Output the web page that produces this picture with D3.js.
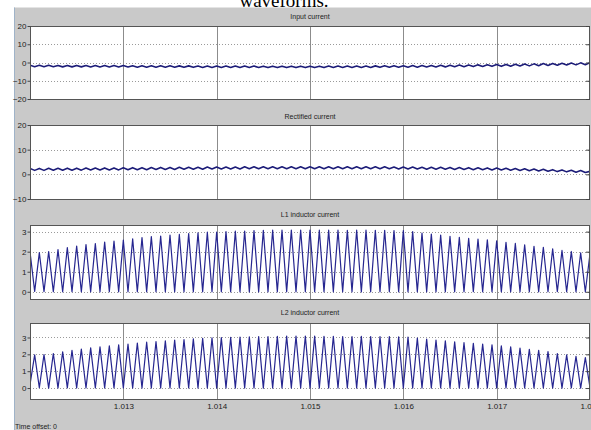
<!DOCTYPE html>
<html><head><meta charset="utf-8">
<script src="https://cdn.jsdelivr.net/npm/d3@7/dist/d3.min.js"></script>
<style>html,body{margin:0;padding:0;background:#fff;}svg{display:block;}</style>
</head><body>
<script>
// ---------- data ----------
const xDomain = [1.012, 1.018];
const xTickValues = [1.013, 1.014, 1.015, 1.016, 1.017, 1.018];
const xTickLabels = ["1.013", "1.014", "1.015", "1.016", "1.017", "1.018"];
const panelTitles = ["Input current", "Rectified current", "L1 inductor current", "L2 inductor current"];
const yDomains = [[-20, 20], [-10, 20], [-0.36, 3.33], [-0.65, 3.86]];
const yTicks = [[-20, -10, 0, 10, 20], [-10, 0, 10, 20], [0, 1, 2, 3], [0, 1, 2, 3]];
const sampleStart = 1.012, sampleStep = 0.00005; // time grid of the scope samples (half switching periods)

const inputCurrent = [
 -1.5,-2.3,-1.55,-2.35,-1.55,-2.35,-1.6,-2.4,-1.6,-2.4,
 -1.6,-2.4,-1.65,-2.45,-1.65,-2.45,-1.7,-2.5,-1.7,-2.5,
 -1.7,-2.5,-1.75,-2.55,-1.75,-2.55,-1.8,-2.6,-1.8,-2.6,
 -1.8,-2.6,-1.85,-2.65,-1.85,-2.65,-1.9,-2.7,-1.9,-2.7,
 -1.9,-2.7,-1.95,-2.75,-1.95,-2.75,-1.95,-2.75,-1.95,-2.75,
 -2.0,-2.8,-2.0,-2.8,-2.0,-2.8,-2.0,-2.8,-2.0,-2.8,
 -2.0,-2.8,-2.0,-2.8,-1.95,-2.75,-1.95,-2.75,-1.95,-2.75,
 -1.9,-2.7,-1.9,-2.7,-1.85,-2.65,-1.8,-2.6,-1.8,-2.6,
 -1.75,-2.6,-1.7,-2.55,-1.65,-2.5,-1.6,-2.45,-1.55,-2.4,
 -1.45,-2.35,-1.4,-2.3,-1.35,-2.25,-1.3,-2.2,-1.2,-2.1,
 -1.1,-2.1,-1.05,-2.05,-0.95,-1.95,-0.85,-1.85,-0.75,-1.75,
 -0.6,-1.6,-0.5,-1.5,-0.4,-1.4,-0.3,-1.3,-0.2,-1.2,
 -0.1];
const rectifiedCurrent = [
 2.4,1.6,2.4,1.6,2.45,1.65,2.45,1.65,2.5,1.7,
 2.5,1.7,2.55,1.75,2.55,1.75,2.6,1.8,2.6,1.8,
 2.65,1.85,2.7,1.9,2.7,1.9,2.75,1.95,2.8,2.0,
 2.8,2.0,2.85,2.05,2.9,2.1,2.9,2.1,2.95,2.15,
 3.0,2.2,3.0,2.2,3.0,2.2,3.05,2.25,3.05,2.25,
 3.1,2.3,3.1,2.3,3.1,2.3,3.1,2.3,3.1,2.3,
 3.1,2.3,3.1,2.3,3.1,2.3,3.1,2.3,3.1,2.3,
 3.1,2.3,3.1,2.3,3.05,2.25,3.05,2.25,3.0,2.2,
 3.0,2.2,2.95,2.15,2.9,2.1,2.9,2.1,2.85,2.05,
 2.8,2.0,2.75,1.95,2.7,1.9,2.65,1.85,2.6,1.8,
 2.55,1.75,2.45,1.65,2.35,1.55,2.25,1.45,2.15,1.35,
 2.05,1.25,1.9,1.1,1.8,1.0,1.65,0.85,1.55,0.75,
 1.2];
// L1: peaks at even samples, valleys at odd samples
const l1Peaks = [2.00,1.95,2.00,2.10,2.20,2.28,2.35,2.40,2.48,2.53,2.58,2.64,2.70,2.75,2.78,2.83,2.86,2.90,2.94,2.97,
 2.98,3.00,3.02,3.03,3.05,3.06,3.07,3.07,3.08,3.08,3.08,3.07,3.07,3.07,3.06,3.07,3.07,3.06,3.06,3.05,
 3.05,3.00,2.93,2.88,2.83,2.77,2.72,2.67,2.63,2.59,2.54,2.47,2.41,2.34,2.27,2.22,2.14,2.06,2.01,1.94,1.90];
const l1Valleys = [0.02,0.01,0,0,0.01,0,0,0,0.01,0,0,0,0,0.01,0,0,0,0,0,0,
 0,0,0,-0.01,0,0,0,0,0,0,0,0,0,0,0,-0.01,0,0,0,0,
 0,0,0,0,0,0,0,0.01,0,0,0,0,0,0,0,0,0.01,0,0,0];
// L2: valleys at even samples, peaks at odd samples
const l2Valleys = [0.2,0.02,0,0,0.01,0,0,0,0,0.01,0,0,0,0,0,0,0,0.01,0,0,
 0,0,0,0,0,-0.01,0,0,0,0,0,0,0,0,0,0,0,0,0,0,
 0,0,0,0,0.01,0,0,0,0,0,0,0,0,0,0,0,0,0,0.01,0,0.02];
const l2Peaks = [1.97,1.98,2.05,2.15,2.24,2.31,2.38,2.44,2.50,2.56,2.61,2.67,2.72,2.76,2.80,2.85,2.88,2.92,2.95,2.98,
 2.99,3.01,3.03,3.04,3.05,3.06,3.07,3.08,3.08,3.08,3.08,3.07,3.07,3.06,3.06,3.07,3.06,3.06,3.05,3.04,
 3.02,2.96,2.90,2.85,2.80,2.74,2.69,2.65,2.61,2.56,2.50,2.44,2.37,2.30,2.24,2.16,2.05,1.97,1.88,1.80];

// ---------- build series ----------
function interleave(evenVals, oddVals) {
  const out = [];
  const n = evenVals.length + oddVals.length;
  for (let i = 0; i < n; i++) out.push(i % 2 === 0 ? evenVals[i / 2] : oddVals[(i - 1) / 2]);
  return out;
}
const seriesValues = [inputCurrent, rectifiedCurrent, interleave(l1Peaks, l1Valleys), interleave(l2Valleys, l2Peaks)];
const series = seriesValues.map(vals => vals.map((v, i) => ({t: sampleStart + i * sampleStep, v})));

// ---------- layout ----------
const W = 591, H = 430;
const plotLeft = 30, plotRight = 590;
const panelBoxes = [[26, 99], [125, 199], [225, 299], [323, 399]];
const titleY = [19, 119, 217, 315];
const font = "'Liberation Sans Narrow','Liberation Sans',Arial,sans-serif";

const svg = d3.select("body").append("svg").attr("width", W).attr("height", H);
svg.append("rect").attr("width", W).attr("height", H).attr("fill", "#fff");
svg.append("text").attr("x", 284).attr("y", 7).attr("text-anchor", "middle")
  .attr("font-family", "'Liberation Serif','Times New Roman',serif").attr("font-size", 19)
  .attr("fill", "#000").text("waveforms.");
svg.append("rect").attr("x", 14).attr("y", 7.5).attr("width", W - 14).attr("height", H - 7.5).attr("fill", "#c9c9c9");
svg.append("line").attr("x1", 14.5).attr("x2", 14.5).attr("y1", 7.5).attr("y2", H).attr("stroke", "#9fb3c8").attr("stroke-width", 1);

const x = d3.scaleLinear().domain(xDomain).range([plotLeft, plotRight]);

panelBoxes.forEach((box, p) => {
  const [top, bottom] = box;
  const y = d3.scaleLinear().domain(yDomains[p]).range([bottom, top]);
  const g = svg.append("g");
  g.append("rect").attr("x", plotLeft).attr("y", top).attr("width", plotRight - plotLeft).attr("height", bottom - top).attr("fill", "#fff");
  // horizontal dotted grid
  g.append("g").selectAll("line").data(yTicks[p]).join("line")
    .attr("x1", plotLeft).attr("x2", plotRight).attr("y1", d => Math.round(y(d)) + 0.5).attr("y2", d => Math.round(y(d)) + 0.5)
    .attr("stroke", "#9a9a9a").attr("stroke-width", 1).attr("stroke-dasharray", "1,2");
  // vertical grid
  g.append("g").selectAll("line").data(xTickValues.slice(0, 5)).join("line")
    .attr("x1", d => Math.round(x(d)) + 0.5).attr("x2", d => Math.round(x(d)) + 0.5).attr("y1", top).attr("y2", bottom)
    .attr("stroke", "#8c8c8c").attr("stroke-width", 1);
  // series
  const clipId = "clip" + p;
  svg.append("clipPath").attr("id", clipId).append("rect").attr("x", plotLeft).attr("y", top).attr("width", plotRight - plotLeft).attr("height", bottom - top);
  const line = d3.line().x(d => x(d.t)).y(d => y(d.v));
  g.append("path").datum(series[p]).attr("clip-path", `url(#${clipId})`)
    .attr("d", line).attr("fill", "none")
    .attr("stroke", p < 2 ? "#1c1c78" : "#262690").attr("stroke-width", p < 2 ? 1.6 : 1.2)
    .attr("stroke-linejoin", "round");
  // box
  g.append("rect").attr("x", plotLeft + 0.5).attr("y", top + 0.5).attr("width", plotRight - plotLeft - 1).attr("height", bottom - top)
    .attr("fill", "none").attr("stroke", "#555").attr("stroke-width", 1);
  // y axis ticks + labels (left), inward ticks on right
  const yAxis = d3.axisLeft(y).tickValues(yTicks[p]).tickSize(3).tickPadding(1).tickFormat(d3.format("d"));
  const ya = g.append("g").attr("transform", `translate(${plotLeft + 0.5},0)`).call(yAxis);
  ya.select(".domain").remove();
  ya.selectAll("line").attr("stroke", "#444");
  ya.selectAll("text").attr("font-family", font).attr("font-size", 8).attr("fill", "#222");
  const yAxisR = d3.axisLeft(y).tickValues(yTicks[p]).tickSize(4).tickFormat("");
  const yr = g.append("g").attr("transform", `translate(${plotRight},0)`).call(yAxisR);
  yr.select(".domain").remove();
  yr.selectAll("line").attr("stroke", "#444");
  // title
  g.append("text").attr("x", 310).attr("y", titleY[p]).attr("text-anchor", "middle")
    .attr("font-family", font).attr("font-size", 7).attr("fill", "#222").text(panelTitles[p]);
});

// x axis labels under last panel
const xAxis = d3.axisBottom(x).tickValues(xTickValues).tickSize(0).tickPadding(4)
  .tickFormat((d, i) => xTickLabels[i]);
const xa = svg.append("g").attr("transform", `translate(0,${panelBoxes[3][1]})`).call(xAxis);
xa.select(".domain").remove();
xa.selectAll("text").attr("font-family", font).attr("font-size", 8).attr("fill", "#222");

svg.append("text").attr("x", 15).attr("y", 429).attr("font-family", font).attr("font-size", 7)
  .attr("fill", "#222").text("Time offset:  0");
</script>
</body></html>
